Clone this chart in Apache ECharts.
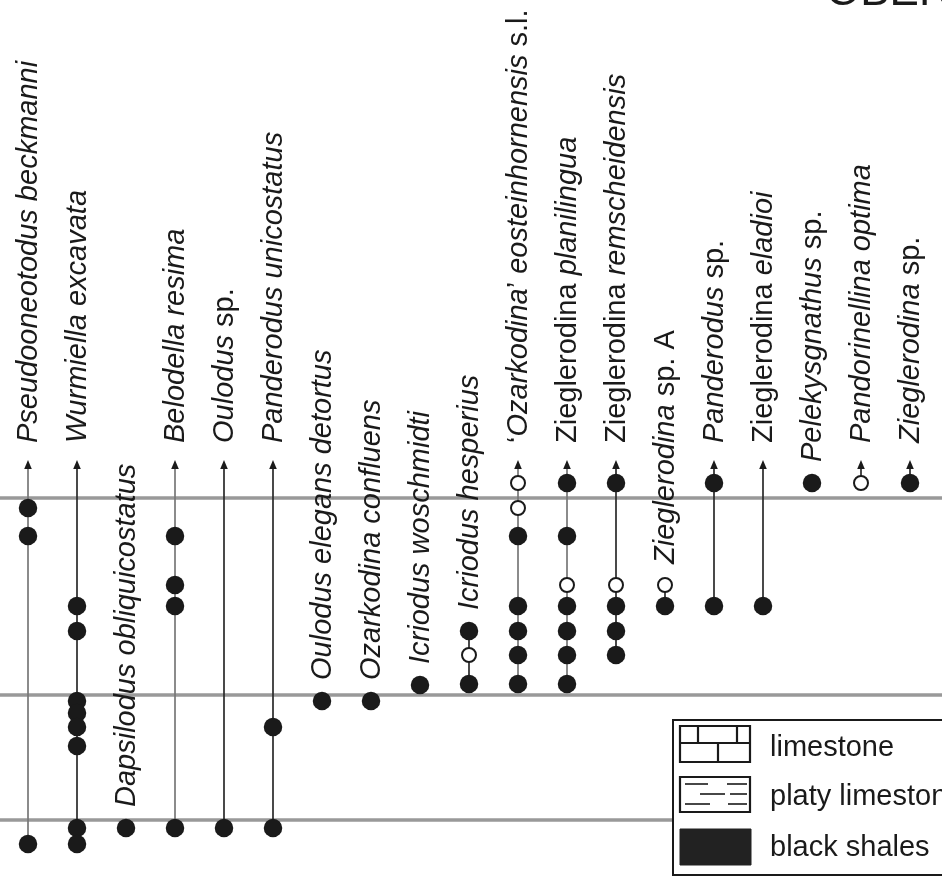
<!DOCTYPE html>
<html>
<head>
<meta charset="utf-8">
<script src="https://cdn.jsdelivr.net/npm/echarts@6/dist/echarts.min.js"></script>
<style>
html,body{margin:0;padding:0;background:#fff;}
#chart{width:942px;height:886px;}
</style>
</head>
<body>
<div id="chart"></div>
<script>
// ---- data (levels: stratigraphic height in arbitrary units, 0 = lowest boundary) ----
const taxa = [
  '{i|Pseudooneotodus beckmanni}',
  '{i|Wurmiella excavata}',
  '{i|Dapsilodus obliquicostatus}',
  '{i|Belodella resima}',
  '{i|Oulodus} sp.',
  '{i|Panderodus unicostatus}',
  '{i|Oulodus elegans detortus}',
  '{i|Ozarkodina confluens}',
  '{i|Icriodus woschmidti}',
  '{i|Icriodus hesperius}',
  '‘{i|Ozarkodina}’ {i|eosteinhornensis} s.l.',
  'Zieglerodina {i|planilingua}',
  'Zieglerodina {i|remscheidensis}',
  '{i|Zieglerodina} sp. A',
  '{i|Panderodus} sp.',
  'Zieglerodina {i|eladioi}',
  '{i|Pelekysgnathus} sp.',
  '{i|Pandorinellina optima}',
  '{i|Zieglerodina} sp.'
];
const filledLevels = [
  [312, 284, -24],
  [214, 189, 119, 107, 93, 74, -8, -24],
  [-8],
  [284, 235, 214, -8],
  [-8],
  [93, -8],
  [119],
  [119],
  [135],
  [189, 136],
  [284, 214, 189, 165, 136],
  [337, 284, 214, 189, 165, 136],
  [337, 214, 189, 165],
  [214],
  [337, 214],
  [214],
  [337],
  [],
  [337]
];
const openLevels = [
  [], [], [], [], [], [], [], [], [],
  [165],
  [337, 312],
  [235],
  [235],
  [235],
  [], [], [],
  [337],
  []
];
const rangesUp = [1,1,0,1,1,1,0,0,0,0,1,1,1,0,1,1,0,1,1];
const boundaries = [322, 125, 0];
const legendItems = ['limestone', 'platy limestone', 'black shales'];
const titleText = 'OBER';

// ---- drawing constants ----
const ARROW_TIP = 360;
const LABEL_GAP_ARROW = 17;
const LABEL_GAP_DOT = 21;
const lightCols = new Set([0, 3, 10, 11]);
const FONT = '"Liberation Sans", Arial, Helvetica, sans-serif';
const INK = '#1a1a1a';

const filledData = [], openData = [], rangeData = [], labelData = [];
taxa.forEach((t, i) => {
  filledLevels[i].forEach(v => filledData.push([i, v]));
  openLevels[i].forEach(v => openData.push([i, v]));
  const all = filledLevels[i].concat(openLevels[i]);
  const lo = Math.min.apply(null, all), hi = Math.max.apply(null, all);
  rangeData.push([i, lo, hi, rangesUp[i]]);
  const start = rangesUp[i] ? ARROW_TIP + LABEL_GAP_ARROW : hi + LABEL_GAP_DOT;
  labelData.push([i, start]);
});

const chart = echarts.init(document.getElementById('chart'), null, {renderer: 'canvas'});

const legendGraphics = [];
const LX = 680, LW = 70;
const legendY = [726, 777, 829];
legendGraphics.push({type:'rect', shape:{x:673, y:720, width:300, height:155}, style:{fill:'#fff', stroke:INK, lineWidth:2}, z:100});
// limestone symbol
legendGraphics.push({type:'rect', shape:{x:LX, y:legendY[0], width:LW, height:36}, style:{fill:'#fff', stroke:INK, lineWidth:2.2}, z:101});
legendGraphics.push({type:'line', shape:{x1:LX, y1:legendY[0]+17, x2:LX+LW, y2:legendY[0]+17}, style:{stroke:INK, lineWidth:2.2}, z:101});
legendGraphics.push({type:'line', shape:{x1:LX+18, y1:legendY[0], x2:LX+18, y2:legendY[0]+17}, style:{stroke:INK, lineWidth:2.2}, z:101});
legendGraphics.push({type:'line', shape:{x1:LX+57, y1:legendY[0], x2:LX+57, y2:legendY[0]+17}, style:{stroke:INK, lineWidth:2.2}, z:101});
legendGraphics.push({type:'line', shape:{x1:LX+38, y1:legendY[0]+17, x2:LX+38, y2:legendY[0]+36}, style:{stroke:INK, lineWidth:2.2}, z:101});
// platy limestone symbol
legendGraphics.push({type:'rect', shape:{x:LX, y:legendY[1], width:LW, height:35}, style:{fill:'#fff', stroke:INK, lineWidth:2.2}, z:101});
[[5,28,7],[47,67,7],[20,45,17],[50,67,17],[5,30,27],[48,67,27]].forEach(d => {
  legendGraphics.push({type:'line', shape:{x1:LX+d[0], y1:legendY[1]+d[2], x2:LX+d[1], y2:legendY[1]+d[2]}, style:{stroke:'#333', lineWidth:1.8}, z:101});
});
// black shales symbol
legendGraphics.push({type:'rect', shape:{x:LX, y:legendY[2], width:LW+1, height:36}, style:{fill:'#222', stroke:'#222', lineWidth:1}, z:101});
legendItems.forEach((t, k) => {
  legendGraphics.push({type:'text', x:770, y:[748, 797, 848][k], style:{text:t, fill:INK, fontSize:29, fontFamily:FONT, verticalAlign:'middle', align:'left'}, z:102});
});
legendGraphics.push({type:'text', x:826, y:15, style:{text:titleText, fill:INK, fontSize:44, fontFamily:FONT, verticalAlign:'bottom', align:'left'}, z:102});

const option = {
  animation: false,
  backgroundColor: '#fff',
  grid: {left:0, right:0, top:0, bottom:0},
  xAxis: {type:'value', min:-28/49, max:(942-28)/49, show:false},
  yAxis: {type:'value', min:-66, max:820, show:false},
  graphic: legendGraphics,
  series: [
    {
      type:'line', data:[], silent:true, z:1,
      markLine: {
        z:1, silent:true, symbol:['none','none'], label:{show:false},
        lineStyle:{color:'#999', width:3.5, type:'solid', opacity:1},
        data: boundaries.map(b => ({yAxis:b}))
      }
    },
    {
      type:'custom', z:2, silent:true,
      data: rangeData,
      renderItem: function(params, api) {
        const col = api.value(0), lo = api.value(1), hi = api.value(2), up = api.value(3);
        const pLo = api.coord([col, lo]);
        const pHi = api.coord([col, up ? ARROW_TIP : hi]);
        const color = lightCols.has(col) ? '#777' : '#2a2a2a';
        const children = [];
        const yTop = up ? pHi[1] + 8 : pHi[1];
        if (pLo[1] > yTop) {
          children.push({type:'line', shape:{x1:pLo[0], y1:pLo[1], x2:pLo[0], y2:yTop}, style:{stroke:color, lineWidth:1.7}});
        }
        if (up) {
          children.push({type:'polygon', shape:{points:[[pHi[0], pHi[1]], [pHi[0]-3.8, pHi[1]+9], [pHi[0]+3.8, pHi[1]+9]]}, style:{fill:INK}});
        }
        return {type:'group', children:children};
      }
    },
    {
      type:'scatter', z:3, silent:true,
      data: filledData, symbol:'circle', symbolSize:18.5,
      itemStyle:{color:INK, opacity:1}
    },
    {
      type:'scatter', z:3, silent:true,
      data: openData, symbol:'circle', symbolSize:14,
      itemStyle:{color:'#fff', borderColor:INK, borderWidth:2, opacity:1}
    },
    {
      type:'custom', z:4, silent:true,
      data: labelData,
      renderItem: function(params, api) {
        const col = api.value(0), start = api.value(1);
        const p = api.coord([col, start]);
        return {
          type:'text', x:p[0] + 1, y:p[1], rotation:Math.PI/2,
          style:{
            text: taxa[col], fill:INK, fontSize:29, fontFamily:FONT,
            align:'left', verticalAlign:'middle',
            rich:{ i:{fontStyle:'italic', fontSize:29, fontFamily:FONT, fill:INK} }
          }
        };
      }
    }
  ]
};
chart.setOption(option);
</script>
</body>
</html>
